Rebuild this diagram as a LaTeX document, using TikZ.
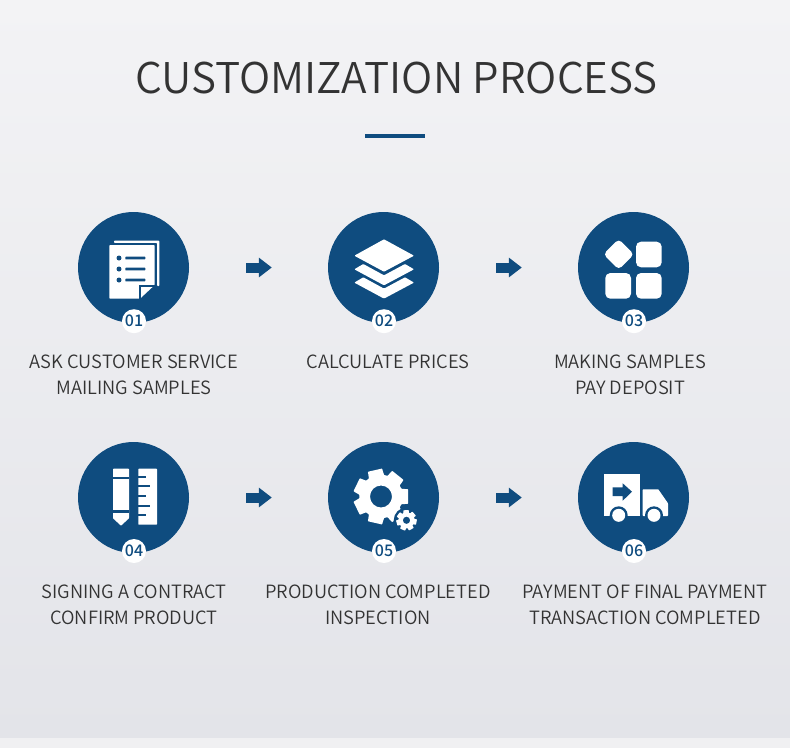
\documentclass[tikz,border=0pt]{standalone}
\usepackage{fontspec}
\setmainfont{Noto Sans CJK SC DemiLight}
\newfontfamily\badgefont{Noto Sans CJK SC Medium}
\usetikzlibrary{arrows.meta,calc}
\definecolor{navy}{HTML}{0F4C7F}
\definecolor{inktext}{HTML}{333333}
\definecolor{bgtop}{HTML}{F3F3F5}
\definecolor{bgbottom}{HTML}{E3E4E9}
\definecolor{bgstrip}{HTML}{F0F0F2}
\tikzset{
	stepcircle/.style = {circle, fill=navy, minimum size=111pt, inner sep=0pt},
	badge/.style = {circle, fill=white, minimum size=24pt, inner sep=0pt, text=navy, font=\badgefont\fontsize{16}{16}\selectfont},
	steplabel/.style = {align=center, text=inktext, inner sep=0pt, font=\fontsize{18.3}{25.5}\selectfont},
	flowarrow/.style = {draw=navy, line width=10pt, -{Triangle[length=13pt, width=19pt]}, shorten <=57pt, shorten >=56pt},
}
\newcommand{\gearicon}[6]{% x, y, tip radius, root radius, hole radius, start angle
	\fill[white, even odd rule, rounded corners=.5pt]
		($(#1,#2)+(#6-21:#4)$)
		\foreach \n in {0,...,6} {
			-- ($(#1,#2)+(#6+\n*51.43-21:#4)$)
			-- ($(#1,#2)+(#6+\n*51.43-15:#3)$)
			-- ($(#1,#2)+(#6+\n*51.43+15:#3)$)
			-- ($(#1,#2)+(#6+\n*51.43+21:#4)$)
		} -- cycle
		(#1,#2) circle (#5);
}
\begin{document}
\begin{tikzpicture}[x = 1pt, y = -1pt]
	\useasboundingbox (0,0) rectangle (790,748);
	\shade [top color=bgtop, bottom color=bgbottom] (0,0) rectangle (790,738);
	\fill [bgstrip] (0,738) rectangle (790,748);

	\node [text=inktext, inner sep=0pt, font=\fontsize{42.3}{42.3}\selectfont] (title) at (396.5,78) {CUSTOMIZATION PROCESS};
	\fill [navy] (365,134) rectangle (425,138);

	% circles, row by row
	\node [stepcircle] (step1) at (133.5,267.5) {};
	\node [stepcircle] (step2) at (383.5,267.5) {};
	\node [stepcircle] (step3) at (633.5,267.5) {};
	\node [stepcircle] (step4) at (133.5,497.5) {};
	\node [stepcircle] (step5) at (383.5,497.5) {};
	\node [stepcircle] (step6) at (633.5,497.5) {};

	\node [badge] (badge1) at (134,321.2) {01};
	\node [badge] (badge2) at (384,321.2) {02};
	\node [badge] (badge3) at (634,321.2) {03};
	\node [badge] (badge4) at (134,551) {04};
	\node [badge] (badge5) at (384,551) {05};
	\node [badge] (badge6) at (634,551) {06};

	\draw [flowarrow] (step1) -- (step2);
	\draw [flowarrow] (step2) -- (step3);
	\draw [flowarrow] (step4) -- (step5);
	\draw [flowarrow] (step5) -- (step6);

	\node [steplabel] (label1) at (134,375) {ASK CUSTOMER SERVICE\\MAILING SAMPLES};
	\node [steplabel] (label2) at (388,362) {CALCULATE PRICES};
	\node [steplabel] (label3) at (630,375) {MAKING SAMPLES\\PAY DEPOSIT};
	\node [steplabel] (label4) at (134,605) {SIGNING A CONTRACT\\CONFIRM PRODUCT};
	\node [steplabel] (label5) at (378,605) {PRODUCTION COMPLETED\\INSPECTION};
	\node [steplabel] (label6) at (645,605) {PAYMENT OF FINAL PAYMENT\\TRANSACTION COMPLETED};

	% icon 1: papers
	\fill [white, rounded corners=.8pt] (114,240.5) -- (159.3,240.5) -- (159.3,286) -- (157,286) -- (157,242.8) -- (114,242.8) -- cycle;
	\fill [white, rounded corners=.8pt] (109.3,245) -- (154.7,245) -- (154.7,285) -- (140,298.7) -- (109.3,298.7) -- cycle;
	\draw [navy, line width=2pt] (139.6,299) -- (139.6,286.2) -- (155.5,286.2);
	\foreach \y in {258,269,280} {
		\fill [navy] (119,\y) circle (2.5);
		\fill [navy, rounded corners=.5pt] (125.3,\y-1.3) rectangle (145.3,\y+1.3);
	}

	% icon 2: layers
	\fill [white, rounded corners=.8pt] (384,239.3) -- (414,255.7) -- (384,271.7) -- (354.3,255.7) -- cycle;
	\foreach \d in {0,13.3} {
		\fill [white, rounded corners=.8pt] (363.3,264+\d) -- (384,275.3+\d) -- (405,264+\d) -- (414,269.3+\d) -- (384,285.3+\d) -- (354.3,269.3+\d) -- cycle;
	}

	% icon 3: blocks
	\fill [white, rounded corners=4pt] (618.7,239) -- (634,254.3) -- (618.7,269.6) -- (603.4,254.3) -- cycle;
	\fill [white, rounded corners=5pt] (636,241.7) rectangle (661.7,267.3);
	\fill [white, rounded corners=5pt] (605.3,273) rectangle (631,298.7);
	\fill [white, rounded corners=5pt] (636,273) rectangle (661.7,298.7);

	% icon 4: pencil and ruler
	\fill [white, rounded corners=.6pt] (113,468.7) -- (129,468.7) -- (129,518.3) -- (121,525.7) -- (113,518.3) -- cycle;
	\fill [navy] (113,476.7) rectangle (129,478.7);
	\fill [navy] (113,510.3) rectangle (129,512.7);
	\fill [white, rounded corners=.6pt] (138.3,468.7) rectangle (157,524.7);
	\foreach \y/\x in {476.8/146,486.3/150,496.3/146,505.7/150,515.2/146} {
		\fill [navy] (138,\y-1) rectangle (\x,\y+1);
	}

	% icon 5: gears
	\gearicon{381}{496.5}{28}{21.7}{11}{0}
	\fill [navy] (406.5,520.3) circle (12.8);
	\gearicon{406.5}{520.3}{10.5}{7.8}{3.7}{10}

	% icon 6: truck
	\fill [white] (604.3,474.3) rectangle (640,516);
	\fill [white, rounded corners=.6pt] (642.7,489.3) -- (658.3,489.3) -- (668,503.3) -- (668,516) -- (642.7,516) -- cycle;
	\fill [navy] (612.7,487.3) -- (622.7,487.3) -- (622.7,483.3) -- (632,491.7) -- (622.7,500.7) -- (622.7,496) -- (612.7,496) -- cycle;
	\foreach \x in {618.7,654} {
		\fill [navy] (\x,515.3) circle (9);
		\fill [white] (\x,515.3) circle (6.5);
	}
\end{tikzpicture}
\end{document}
